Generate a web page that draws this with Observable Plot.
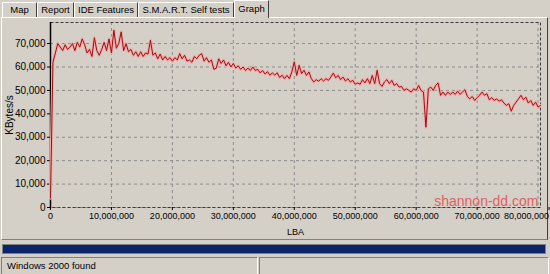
<!DOCTYPE html>
<html>
<head>
<meta charset="utf-8">
<script src="https://cdn.jsdelivr.net/npm/d3@7"></script>
<script src="https://cdn.jsdelivr.net/npm/@observablehq/plot@0.6"></script>
<style>
  html, body { margin: 0; padding: 0; }
  body { width: 550px; height: 274px; background: #d4d0c8; position: relative; overflow: hidden;
         font-family: "Liberation Sans", Arial, sans-serif; color: #000; }
  .tabs { position: absolute; left: 0; top: 0; width: 550px; height: 18px; }
  .tab { position: absolute; top: 2px; height: 15px; font-size: 9.5px; line-height: 14px; text-align: center;
         border-left: 1px solid #fff; border-top: 1px solid #fff; border-right: 1px solid #404040; box-sizing: border-box; }
  .tab.sel { top: 0; height: 18px; line-height: 16px; background: #d4d0c8; z-index: 2; }
  .panel { position: absolute; left: 1px; top: 17px; width: 547px; height: 223px; box-sizing: border-box;
           border-top: 1px solid #fff; border-left: 1px solid #fff; border-right: 1px solid #404040; border-bottom: 1px solid #808080; }
  .chart { position: absolute; left: 0; top: 17px; width: 550px; height: 225px; }
  .progress { position: absolute; left: 2px; top: 244px; width: 544px; height: 10px; background: #0a246a;
              border: 1px solid #808080; box-sizing: border-box; }
  .status { position: absolute; top: 257px; height: 17px; box-sizing: border-box;
            border-top: 1px solid #808080; border-left: 1px solid #808080; border-right: 1px solid #fff;
            font-size: 9.5px; line-height: 16px; padding-left: 5px; }
</style>
</head>
<body>
<div class="tabs">
  <div class="tab" style="left:2px;width:35px;">Map</div>
  <div class="tab" style="left:37px;width:37px;">Report</div>
  <div class="tab" style="left:74px;width:64px;">IDE Features</div>
  <div class="tab" style="left:138px;width:96px;">S.M.A.R.T. Self tests</div>
  <div class="tab sel" style="left:234px;width:35px;">Graph</div>
</div>
<div class="panel"></div>
<div class="chart" id="chart"></div>
<div class="progress"></div>
<div class="status" style="left:1px;width:257px;">Windows 2000 found</div>
<div class="status" style="left:259px;width:290px;"></div>
<script>
// Sample spacing along the LBA axis (one reading every 400,000 LBA)
const lbaStep = 400000;
// Transfer rate readings, KBytes/s
const kbytesPerSec = [
  4000, 62000, 66000, 70000, 68500, 67000, 69500, 67500, 68500, 70000,
  67000, 70500, 68500, 72000, 69500, 66000, 67500, 64500, 72500, 67000,
  65000, 67500, 70500, 67000, 72000, 66000, 75700, 68000, 70000, 75000,
  67000, 70000, 66500, 67500, 65000, 66500, 64500, 66500, 64500, 66000,
  65500, 71400, 65000, 66000, 63500, 65500, 63000, 64500, 63000, 64000,
  62500, 64000, 63000, 65700, 63500, 65000, 62500, 63000, 62000, 64500,
  63500, 65000, 65700, 62500, 64000, 62000, 63000, 59000, 59500, 63500,
  61500, 63000, 60500, 62000, 60000, 61500, 59500, 60500, 59000, 60000,
  58500, 59500, 58500, 60000, 58500, 59000, 57500, 58500, 57000, 58000,
  56500, 57500, 56500, 57500, 55500, 56500, 55000, 56400, 55000, 57900,
  62200, 56400, 60700, 57200, 58600, 56400, 57900, 55000, 53600, 54600,
  53900, 55000, 54000, 55000, 54300, 55700, 57400, 55400, 56400, 54600,
  55700, 54000, 55000, 53600, 54300, 52600, 53200, 52600, 54600, 53200,
  55000, 52900, 56400, 52900, 58600, 52900, 51700, 53600, 54600, 52900,
  54300, 52100, 52900, 51400, 51700, 50000, 50700, 50000, 49300, 50700,
  50000, 52100, 50000, 49300, 34300, 50700, 51400, 50000, 52100, 53200,
  47900, 49300, 47900, 49300, 48200, 49300, 48300, 49700, 48300, 49300,
  50300, 47400, 46400, 47400, 45700, 46900, 47900, 49300, 47900, 48600,
  46000, 46900, 45700, 46400, 45400, 46000, 44600, 43600, 44300, 41100,
  43600, 45000, 46400, 47900, 46000, 47100, 44600, 45700, 43600, 45000,
  42900, 43600
];
const xTicks = [0, 10000000, 20000000, 30000000, 40000000, 50000000, 60000000, 70000000];
const xLastTick = [80000000];
const yTicks = [0, 10000, 20000, 30000, 40000, 50000, 60000, 70000];
const xLabel = "LBA";
const yLabel = "KBytes/s";
const watermark = "shannon-dd.com";

const data = kbytesPerSec.map((v, i) => ({lba: i * lbaStep, rate: v}));
const xMax = (kbytesPerSec.length - 1) * lbaStep;

const chart = Plot.plot({
  width: 550,
  height: 225,
  marginTop: 5,
  marginBottom: 35,
  marginLeft: 50,
  marginRight: 10,
  style: {background: "transparent", fontFamily: "'Liberation Sans', Arial, sans-serif", fontSize: "10px", color: "#000"},
  x: {domain: [0, xMax]},
  y: {domain: [0, 79000]},
  marks: [
    Plot.gridX(xTicks.concat(xLastTick), {stroke: "#8c8c8c", strokeOpacity: 1, strokeDasharray: "3,3"}),
    Plot.gridY(yTicks, {stroke: "#8c8c8c", strokeOpacity: 1, strokeDasharray: "3,3"}),
    Plot.frame({stroke: "#3a3a3a", strokeDasharray: "3,2"}),
    Plot.axisX(xTicks, {tickFormat: d3.format(","), fontSize: 9, tickSize: 3, tickPadding: 2,
      label: xLabel, labelAnchor: "center", labelArrow: "none", labelOffset: 27}),
    Plot.axisX(xLastTick, {tickFormat: d3.format(","), fontSize: 9, tickSize: 3, tickPadding: 2,
      textAnchor: "end", dx: 11, label: null}),
    Plot.axisY(yTicks, {tickFormat: d3.format(","), tickSize: 3, tickPadding: 2,
      label: yLabel, labelAnchor: "center", labelArrow: "none", labelOffset: 45}),
    Plot.ruleX([0], {stroke: "#000", strokeWidth: 1.5}),
    Plot.line(data, {x: "lba", y: "rate", stroke: "#f2abab", strokeWidth: 3}),
    Plot.line(data, {x: "lba", y: "rate", stroke: "#9c1010", strokeWidth: 1}),
    Plot.text([watermark], {frameAnchor: "bottom-right", dx: -2, dy: -2, fill: "#e06060",
      fontSize: 14, fontFamily: "'Liberation Sans', Arial, sans-serif"})
  ]
});
document.getElementById("chart").appendChild(chart);
</script>
</body>
</html>
